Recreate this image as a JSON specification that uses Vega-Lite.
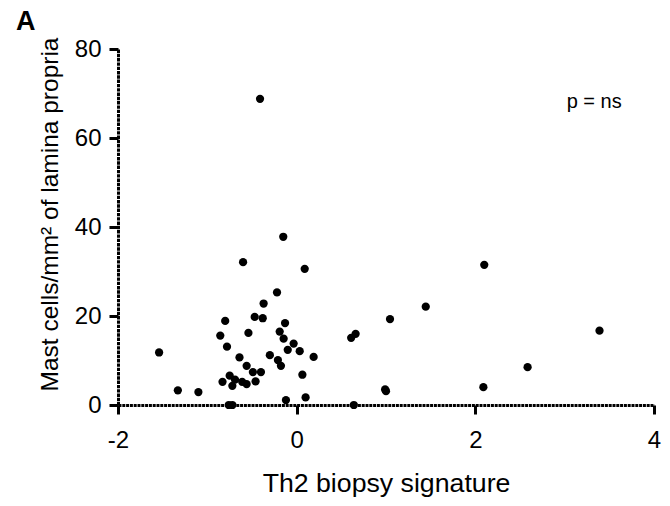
{
  "$schema": "https://vega.github.io/schema/vega-lite/v6.json",
  "width": 536,
  "height": 356,
  "autosize": {"type": "none"},
  "padding": {"left": 118, "top": 49, "right": 16, "bottom": 101},
  "config": {
    "view": {"stroke": null},
    "font": "Liberation Sans",
    "axis": {"grid": false, "labelColor": "black", "titleColor": "black", "domainColor": "black", "tickColor": "black"}
  },
  "title": {
    "text": "A",
    "anchor": "start",
    "frame": "group",
    "dx": -102,
    "offset": 17,
    "dy": 37,
    "baseline": "alphabetic",
    "fontSize": 27,
    "fontWeight": "bold",
    "color": "black",
    "font": "Liberation Sans"
  },
  "datasets": {
    "points": [
      {"signature": -1.54, "mast": 11.8},
      {"signature": -1.33, "mast": 3.3},
      {"signature": -1.10, "mast": 2.9},
      {"signature": -0.855, "mast": 15.6},
      {"signature": -0.80, "mast": 18.9},
      {"signature": -0.78, "mast": 13.1},
      {"signature": -0.83, "mast": 5.2},
      {"signature": -0.75, "mast": 6.6},
      {"signature": -0.72, "mast": 4.3},
      {"signature": -0.76, "mast": 0},
      {"signature": -0.72, "mast": 0},
      {"signature": -0.69, "mast": 5.7},
      {"signature": -0.64, "mast": 10.7},
      {"signature": -0.61, "mast": 5.2},
      {"signature": -0.56, "mast": 4.7},
      {"signature": -0.56, "mast": 8.8},
      {"signature": -0.54, "mast": 16.2},
      {"signature": -0.49, "mast": 7.4},
      {"signature": -0.46, "mast": 5.3},
      {"signature": -0.47, "mast": 19.8},
      {"signature": -0.40, "mast": 7.4},
      {"signature": -0.38, "mast": 19.5},
      {"signature": -0.37, "mast": 22.8},
      {"signature": -0.30, "mast": 11.2},
      {"signature": -0.22, "mast": 25.3},
      {"signature": -0.21, "mast": 10.1},
      {"signature": -0.19, "mast": 16.5},
      {"signature": -0.176, "mast": 8.8},
      {"signature": -0.146, "mast": 14.9},
      {"signature": -0.13, "mast": 18.4},
      {"signature": -0.12, "mast": 1.1},
      {"signature": -0.10, "mast": 12.4},
      {"signature": -0.034, "mast": 13.8},
      {"signature": 0.034, "mast": 12.1},
      {"signature": 0.064, "mast": 6.8},
      {"signature": 0.10, "mast": 1.7},
      {"signature": 0.19, "mast": 10.8},
      {"signature": -0.60, "mast": 32.1},
      {"signature": -0.41, "mast": 68.8},
      {"signature": -0.15, "mast": 37.8},
      {"signature": 0.09, "mast": 30.6},
      {"signature": 0.61, "mast": 15.1},
      {"signature": 0.66, "mast": 16.0},
      {"signature": 0.64, "mast": 0},
      {"signature": 0.99, "mast": 3.5},
      {"signature": 1.00, "mast": 3.1},
      {"signature": 1.045, "mast": 19.3},
      {"signature": 1.445, "mast": 22.1},
      {"signature": 2.09, "mast": 4.0},
      {"signature": 2.10, "mast": 31.5},
      {"signature": 2.585, "mast": 8.5},
      {"signature": 3.39, "mast": 16.7}
    ],
    "notes": [
      {"signature": 3.33, "mast": 66.7, "label": "p = ns"}
    ]
  },
  "layer": [
    {
      "data": {"name": "points"},
      "mark": {"type": "circle", "size": 68, "opacity": 1, "color": "black"},
      "encoding": {
        "x": {
          "field": "signature",
          "type": "quantitative",
          "scale": {"domain": [-2, 4], "nice": false, "zero": false},
          "axis": {
            "values": [-2, 0, 2, 4],
            "labelExpr": "toString(datum.value)",
            "labelFlush": false,
            "labelOverlap": false,
            "tickSize": 9,
            "tickWidth": 3,
            "domainWidth": 3,
            "domainDash": [3, 0.8],
            "labelFontSize": 24,
            "labelPadding": 14,
            "title": "Th2 biopsy signature",
            "titleFontSize": 26.7,
            "titleFontWeight": "normal",
            "titlePadding": 18
          }
        },
        "y": {
          "field": "mast",
          "type": "quantitative",
          "scale": {"domain": [0, 80], "nice": false},
          "axis": {
            "values": [0, 20, 40, 60, 80],
            "labelFlush": false,
            "tickSize": 9,
            "tickWidth": 3,
            "domainWidth": 3,
            "domainDash": [3.4, 0.9],
            "labelFontSize": 24,
            "labelPadding": 8,
            "title": "Mast cells/mm² of lamina propria",
            "titleFontSize": 24.5,
            "titleFontWeight": "normal",
            "titlePadding": 12,
            "titleY": 165
          }
        }
      }
    },
    {
      "data": {"name": "notes"},
      "mark": {"type": "text", "fontSize": 20, "baseline": "alphabetic", "align": "center", "color": "black"},
      "encoding": {
        "x": {"field": "signature", "type": "quantitative"},
        "y": {"field": "mast", "type": "quantitative"},
        "text": {"field": "label"}
      }
    }
  ]
}
